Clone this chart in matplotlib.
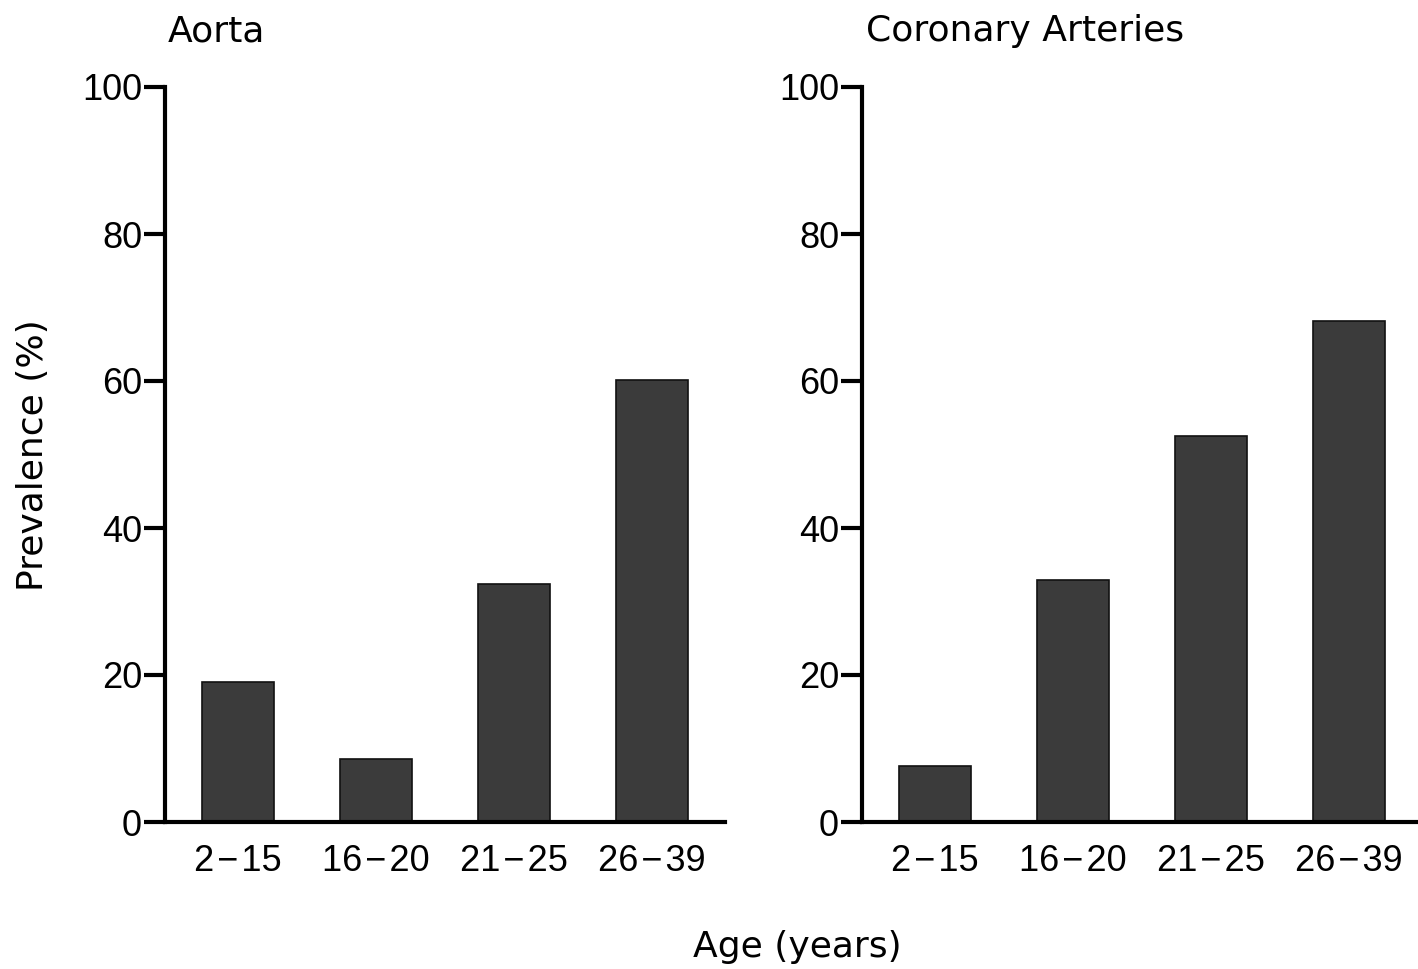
import matplotlib
matplotlib.use("Agg")
import matplotlib.pyplot as plt
import numpy as np

plt.rcParams['font.family'] = ['DejaVu Sans']

# data
age_groups = ['2\u200a\u2212\u200a15', '16\u200a\u2212\u200a20', '21\u200a\u2212\u200a25', '26\u200a\u2212\u200a39']
aorta = [19.0, 8.6, 32.4, 60.1]
coronary = [7.6, 32.9, 52.5, 68.2]
panel_titles = ['Aorta', 'Coronary Arteries']

fig = plt.figure(figsize=(14.18, 9.69), dpi=100)
W, H = 1418, 969

ax1 = fig.add_axes([165 / W, 147 / H, 560 / W, 735 / H])
ax2 = fig.add_axes([862 / W, 147 / H, 560 / W, 735 / H])

x = np.arange(len(age_groups))
for ax, vals in zip([ax1, ax2], [aorta, coronary]):
    ax.bar(x, vals, width=0.52, color='#3b3b3b', edgecolor='#111111', linewidth=1.2)
    ax.set_xlim(-0.53, 3.53)
    ax.set_ylim(0, 100)
    ax.set_yticks([0, 20, 40, 60, 80, 100])
    ax.set_xticks(x)
    ax.set_xticklabels(age_groups)
    ax.spines['top'].set_visible(False)
    ax.spines['right'].set_visible(False)
    ax.spines['left'].set_linewidth(3)
    ax.spines['bottom'].set_linewidth(3)
    ax.tick_params(axis='y', length=15, width=3, pad=1.5)
    ax.tick_params(axis='x', length=0, pad=16)
    for lab in ax.get_xticklabels() + ax.get_yticklabels():
        lab.set_fontfamily(['Liberation Sans', 'DejaVu Sans'])
        lab.set_fontsize(26)

# panel titles
fig.text(168 / W, 1 - 41 / H, panel_titles[0], ha='left', va='baseline', fontsize=26)
fig.text(866 / W, 1 - 41 / H, panel_titles[1], ha='left', va='baseline', fontsize=26)

fig.text(33 / W, 1 - 455 / H, 'Prevalence (%)', rotation=90, ha='center', va='center', fontsize=26)
fig.text(797 / W, 1 - 957 / H, 'Age (years)', ha='center', va='baseline', fontsize=26)

fig.savefig('out.png', dpi=100)
